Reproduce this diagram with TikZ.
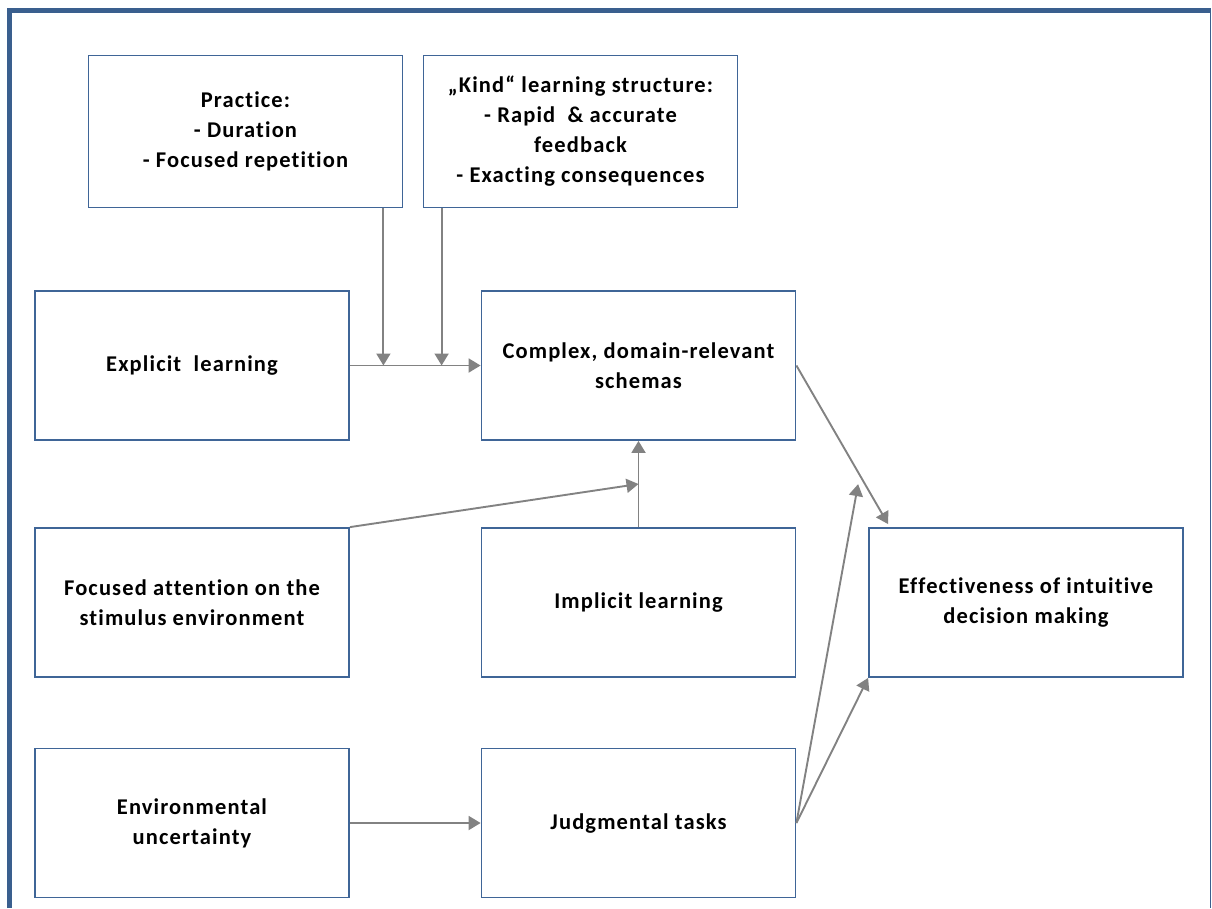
\documentclass[tikz,border=0pt]{standalone}
\usepackage{fontspec}
\setmainfont{Carlito}[LetterSpace=5,Ligatures=NoCommon]
\usetikzlibrary{arrows.meta,calc}
\definecolor{boxblue}{HTML}{3F6597}
\definecolor{frameblue}{HTML}{3A5F8E}
\definecolor{arrgray}{HTML}{828282}
\begin{document}
\begin{tikzpicture}[x=1pt,y=-1pt,
  box/.style={draw=boxblue,line width=1.8pt,minimum width=314pt,minimum height=149pt,inner sep=0pt,
    align=center,font=\fontsize{22.5}{30}\selectfont\bfseries},
  arr/.style={draw=arrgray,line width=1.9pt,-{Triangle[length=12pt,width=14pt]}}]
\useasboundingbox (0,0) rectangle (1212,908);
% frame
\draw[frameblue,line width=5pt] (9.5,908) -- (9.5,10.5) -- (1211,10.5);
\draw[frameblue,line width=1.5pt] (1210.5,10.5) -- (1210.5,908);
% boxes
\node[box,minimum height=152pt] (practice) at (245.5,131.5) {Practice:\\- Duration\\- Focused repetition};
\node[box,minimum height=152pt] (kind) at (580.5,131.5) {„Kind“ learning structure:\\- Rapid~ \& accurate\\feedback\\- Exacting consequences};
\node[box] (explicit) at (192,365.5) {Explicit~ learning};
\node[box] (complex) at (638.5,365.5) {Complex, domain-relevant\\schemas};
\node[box] (focused) at (192,602.5) {Focused attention on the\\stimulus environment};
\node[box] (implicit) at (638.5,602.5) {Implicit learning};
\node[box] (eff) at (1026,602.5) {Effectiveness of intuitive\\decision making};
\node[box] (env) at (192,823) {Environmental\\uncertainty};
\node[box] (judg) at (638.5,823) {Judgmental tasks};
% connectors
\draw[arr] (explicit.east) -- (complex.west);
\draw[arr] ([xshift=-20pt]practice.south east) -- ([xshift=-20pt]practice.south east |- explicit.east);
\draw[arr] ([xshift=19pt]kind.south west) -- ([xshift=19pt]kind.south west |- explicit.east);
\coordinate (mid) at ($(complex.south)!0.5!(implicit.north)$);
\draw[arr] (implicit.north) -- (complex.south);
\draw[arr] (focused.north east) -- (mid);
\draw[arr] (complex.east) -- ($(eff.north west)+(20,-3)$);
\draw[arr] (env.east) -- (judg.west);
\draw[arr] (judg.east) -- (eff.south west);
\draw[arr] (judg.east) -- ($(eff.north west)+(-10,-43)$);
\end{tikzpicture}
\end{document}
